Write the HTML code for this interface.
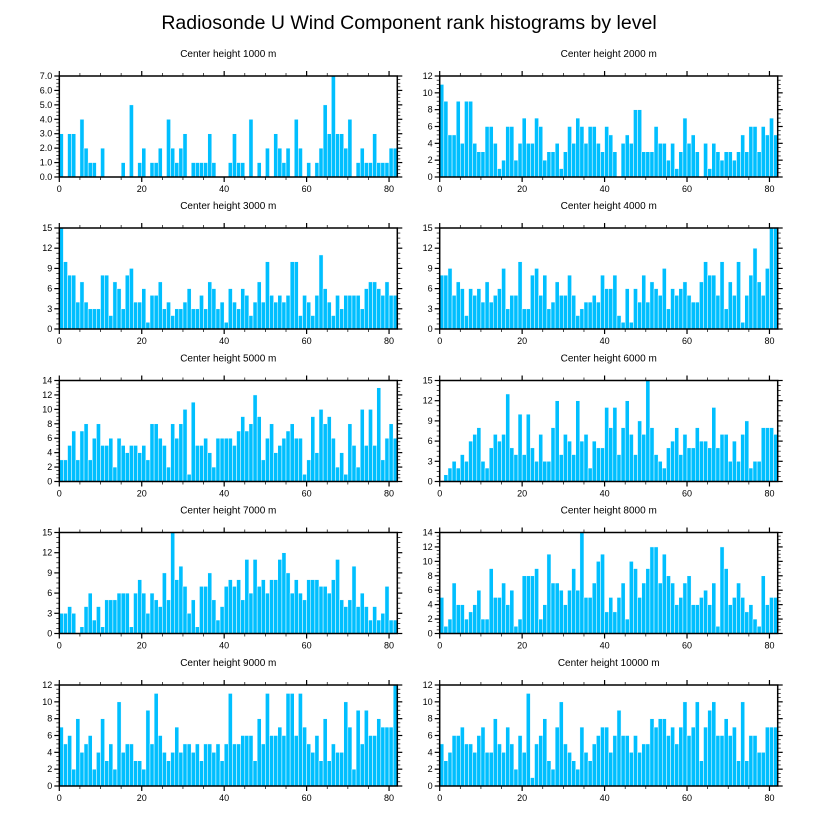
<!DOCTYPE html>
<html><head><meta charset="utf-8"><style>
html,body{margin:0;padding:0;background:#fff;}
svg{display:block;font-family:"Liberation Sans",sans-serif;}
</style></head><body>
<svg id="chart" width="818" height="824" viewBox="0 0 818 824">
<text x="409" y="29" text-anchor="middle" font-size="19.5">Radiosonde U Wind Component rank histograms by level</text>
</svg>
<script>
const heights = ["1000","2000","3000","4000","5000","6000","7000","8000","9000","10000"];
const yMaxes = [7,12,15,15,14,15,15,14,12,12];
const ySteps = [1,2,3,3,2,3,3,2,2,2];
const xTicks = [0,20,40,60,80];
const values1 = [3,0,3,3,0,4,2,1,1,0,2,0,0,0,0,1,0,5,0,1,2,0,1,1,2,0,4,2,1,2,3,0,1,1,1,1,3,1,0,0,0,1,3,1,1,0,4,0,1,0,2,0,3,2,1,2,0,4,2,0,1,0,1,2,5,3,7,3,3,2,4,0,1,2,1,1,3,1,1,1,2,2];
const values2 = [11,9,5,5,9,4,9,9,4,3,3,6,6,4,1,2,6,6,2,4,7,4,4,7,6,2,3,3,4,1,3,6,4,7,6,4,6,6,4,3,6,5,3,0,4,5,4,8,8,3,3,3,6,4,4,2,4,1,3,7,4,5,3,0,4,1,4,3,2,3,3,2,3,5,3,6,6,3,6,5,7,5];
const values3 = [15,10,8,8,4,7,4,3,3,3,8,8,2,7,6,3,8,9,4,4,6,1,5,5,7,3,4,2,3,3,4,6,3,3,5,3,7,6,3,4,1,6,4,3,6,5,2,4,7,4,10,5,4,5,4,5,10,10,2,5,4,2,5,11,6,4,2,5,3,5,5,5,5,3,6,7,7,6,5,7,5,5];
const values4 = [8,8,9,5,7,6,2,6,5,6,4,7,4,5,6,9,3,5,5,10,3,3,8,9,5,8,3,4,7,5,5,8,5,2,3,4,4,5,4,8,6,6,8,2,1,6,1,6,4,8,4,7,6,5,9,3,6,5,6,7,5,4,4,7,10,8,8,5,10,3,7,5,10,1,5,8,12,7,5,9,15,15];
const values5 = [3,3,5,7,3,7,8,3,6,8,5,5,6,2,6,5,4,5,5,4,5,3,8,8,6,5,2,8,6,8,10,1,11,5,5,6,4,2,6,6,6,6,5,7,9,7,8,12,9,3,6,8,4,5,6,7,8,6,6,1,3,9,4,10,8,9,6,2,4,1,8,5,2,10,5,10,5,13,3,6,8,6];
const values6 = [0,1,2,3,2,4,3,6,7,8,3,2,5,7,6,7,13,5,4,10,4,10,5,3,7,3,3,8,12,4,7,6,4,12,6,7,2,6,5,5,11,8,11,4,8,12,7,4,9,7,15,8,4,3,2,5,6,8,4,7,5,5,8,6,6,5,11,5,7,7,3,6,3,7,9,2,3,3,8,8,8,7];
const values7 = [3,3,4,3,0,1,4,6,2,4,1,5,5,5,6,6,6,1,6,8,6,3,6,5,4,9,5,15,8,10,7,3,5,1,7,7,9,5,2,4,7,8,7,8,5,11,6,11,7,8,6,8,8,11,12,9,6,8,6,5,8,8,8,7,7,6,8,11,5,4,5,10,4,6,4,2,4,2,3,7,2,2];
const values8 = [5,1,2,7,4,4,2,3,4,6,2,2,9,5,5,7,4,6,1,2,8,8,8,9,2,4,11,7,7,6,4,6,9,6,14,5,5,7,10,11,3,5,3,5,7,2,10,9,5,7,9,12,12,7,11,8,7,4,5,7,8,4,4,5,6,4,7,1,12,9,4,5,7,5,3,4,2,1,8,4,5,5];
const values9 = [7,5,6,2,8,4,5,6,2,4,8,3,5,2,10,4,5,5,3,3,2,9,5,11,6,4,3,4,7,4,5,5,4,5,3,5,5,4,5,3,5,11,5,5,6,6,6,3,8,5,11,6,6,7,6,11,11,6,11,7,5,4,6,3,8,3,5,4,4,10,7,2,9,5,9,6,6,8,7,7,7,12];
const values10 = [5,3,4,6,6,7,5,5,4,6,7,4,4,8,5,4,7,5,2,6,4,11,1,5,6,8,3,2,7,10,5,4,3,2,7,4,3,5,6,7,7,4,6,9,6,6,4,6,4,5,5,8,7,8,8,6,7,5,7,10,6,7,10,3,7,9,10,6,6,8,6,7,3,10,3,6,6,4,4,7,7,7];
const allValues = [values1,values2,values3,values4,values5,values6,values7,values8,values9,values10];

const NS = "http://www.w3.org/2000/svg";
const svg = document.getElementById('chart');
function mk(tag, attrs, parent){ const e=document.createElementNS(NS,tag); for(const k in attrs) e.setAttribute(k,attrs[k]); (parent||svg).appendChild(e); return e; }

const colLeft = [59.3, 439.7];
const plotW = 338;
const rowTop = [76, 228, 380.5, 532.5, 685];
const plotH = 101;
const nBins = 82;

for(let p=0;p<10;p++){
  const vals = allValues[p];
  const L = colLeft[p%2], T = rowTop[Math.floor(p/2)], R = L+plotW, B = T+plotH;
  const ymax = yMaxes[p], ystep = ySteps[p];
  const bw = plotW/nBins;
  const xScale = v => L + v*bw;
  const yScale = v => B - v/ymax*plotH;
  const g = mk('g',{});
  
  
  const t = mk('text',{x:(L+R)/2, y:T-19, 'text-anchor':'middle','font-size':'10'}, g);
  t.textContent = 'Center height ' + heights[p] + ' m';
  
  
  for(let i=0;i<vals.length;i++){
    if(vals[i]<=0) continue;
    const y = yScale(vals[i]);
    const r = mk('rect',{x:xScale(i), y:y, width:bw, height:B-y, fill:'#00bfff', stroke:'#ffffff','stroke-width':'0.5'}, g);
    
    
  }
  for(let v=0; v<=nBins; v+=5){
    const x = xScale(v); if(x>R+0.5) break;
    const major = v%20===0;
    const len = major?5:3;
    mk('line',{x1:x,x2:x,y1:B,y2:B+len,stroke:'#000','stroke-width':major?1.2:0.7}, g);
    mk('line',{x1:x,x2:x,y1:T,y2:T-len,stroke:'#000','stroke-width':major?1.2:0.7}, g);
  }
  for(const v of xTicks){
    const tx = mk('text',{x:xScale(v), y:B+15,'text-anchor':'middle','font-size':'9'}, g);
    tx.textContent = v;
    
    
  }
  const minor = ystep/4;
  for(let k=0; k*minor<=ymax+1e-9; k++){
    const v = k*minor, y = yScale(v);
    const major = k%4===0;
    const len = major?5:3;
    mk('line',{x1:L,x2:L-len,y1:y,y2:y,stroke:'#000','stroke-width':major?1.2:0.7}, g);
    mk('line',{x1:R,x2:R+len,y1:y,y2:y,stroke:'#000','stroke-width':major?1.2:0.7}, g);
    if(major){
      const ty = mk('text',{x:L-7, y:y+3,'text-anchor':'end','font-size':'9'}, g);
      ty.textContent = ymax===7 ? v.toFixed(1) : v;
      
      
    }
  }
  mk('rect',{x:L,y:T,width:plotW,height:plotH,fill:'none',stroke:'#000','stroke-width':'1.5'}, g);
}
</script>
</body></html>
